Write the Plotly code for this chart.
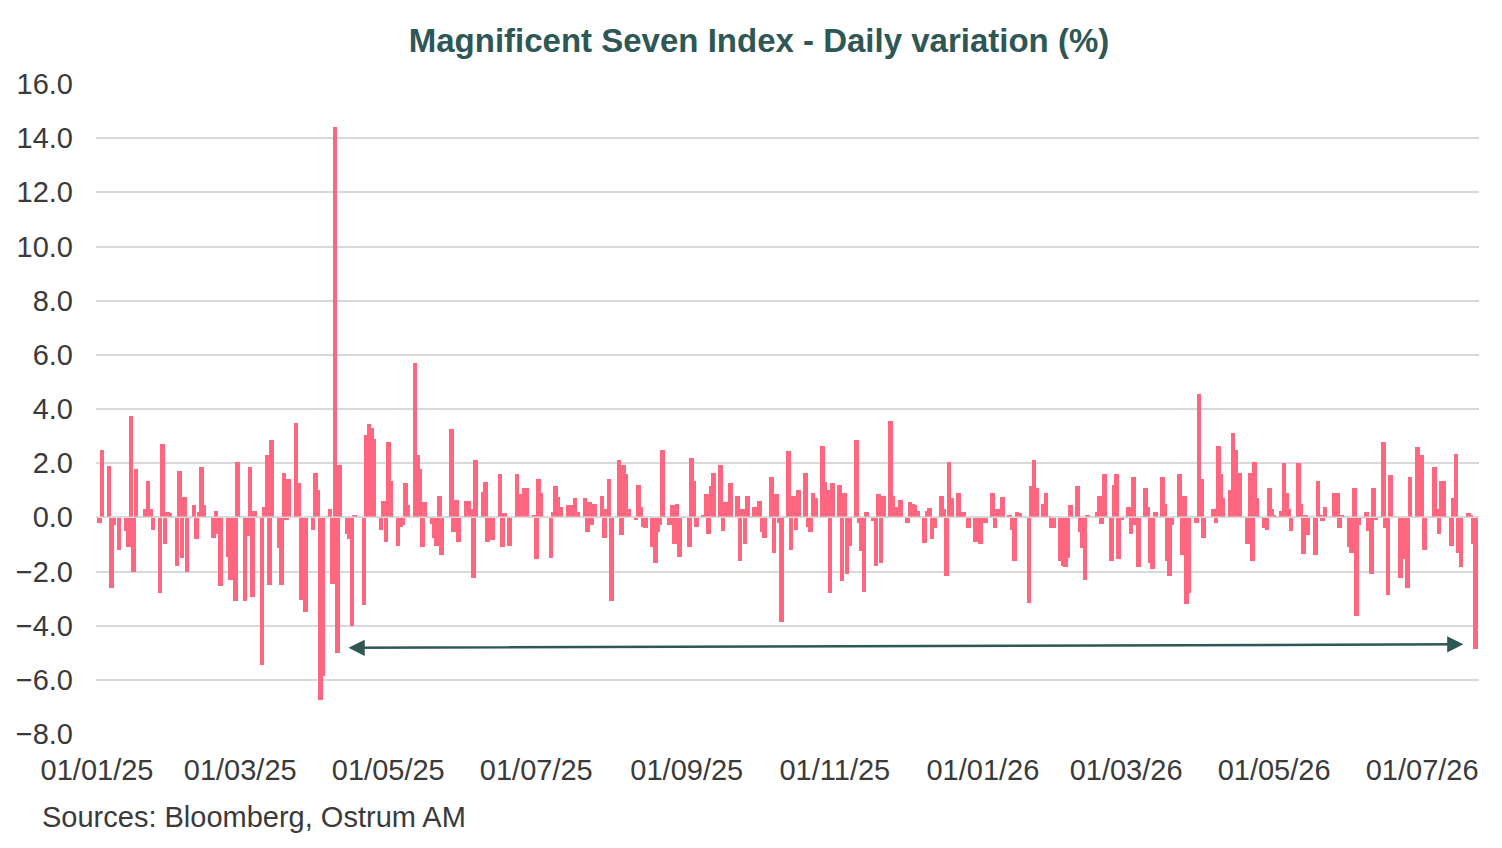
import plotly.graph_objects as go


def month(ym, days):
    return [f"{ym}-{d:02d}" for d in days]


trade_dates = (
    month("2025-01", [2, 3, 6, 7, 8, 10, 13, 14, 15, 16, 17, 21, 22, 23, 24, 27, 28, 29, 30, 31])
    + month("2025-02", [3, 4, 5, 6, 7, 10, 11, 12, 13, 14, 18, 19, 20, 21, 24, 25, 26, 27, 28])
    + month("2025-03", [3, 4, 5, 6, 7, 10, 11, 12, 13, 14, 17, 18, 19, 20, 21, 24, 25, 26, 27, 28, 31])
    + month("2025-04", [1, 2, 3, 4, 7, 8, 9, 10, 11, 14, 15, 16, 17, 21, 22, 23, 24, 25, 28, 29, 30])
    + month("2025-05", [1, 2, 5, 6, 7, 8, 9, 12, 13, 14, 15, 16, 19, 20, 21, 22, 23, 27, 28, 29, 30])
    + month("2025-06", [2, 3, 4, 5, 6, 9, 10, 11, 12, 13, 16, 17, 18, 20, 23, 24, 25, 26, 27, 30])
    + month("2025-07", [1, 2, 3, 7, 8, 9, 10, 11, 14, 15, 16, 17, 18, 21, 22, 23, 24, 25, 28, 29, 30, 31])
    + month("2025-08", [1, 4, 5, 6, 7, 8, 11, 12, 13, 14, 15, 18, 19, 20, 21, 22, 25, 26, 27, 28, 29])
    + month("2025-09", [2, 3, 4, 5, 8, 9, 10, 11, 12, 15, 16, 17, 18, 19, 22, 23, 24, 25, 26, 29, 30])
    + month("2025-10", [1, 2, 3, 6, 7, 8, 9, 10, 13, 14, 15, 16, 17, 20, 21, 22, 23, 24, 27, 28, 29, 30, 31])
    + month("2025-11", [3, 4, 5, 6, 7, 10, 11, 12, 13, 14, 17, 18, 19, 20, 21, 24, 25, 26, 28])
    + month("2025-12", [1, 2, 3, 4, 5, 8, 9, 10, 11, 12, 15, 16, 17, 18, 19, 22, 23, 24, 26, 29, 30, 31])
    + month("2026-01", [2, 5, 6, 7, 8, 9, 12, 13, 14, 15, 16, 20, 21, 22, 23, 26, 27, 28, 29, 30])
    + month("2026-02", [2, 3, 4, 5, 6, 9, 10, 11, 12, 13, 17, 18, 19, 20, 23, 24, 25, 26, 27])
    + month("2026-03", [2, 3, 4, 5, 6, 9, 10, 11, 12, 13, 16, 17, 18, 19, 20, 23, 24, 25, 26, 27, 30, 31])
    + month("2026-04", [1, 2, 6, 7, 8, 9, 10, 13, 14, 15, 16, 17, 20, 21, 22, 23, 24, 27, 28, 29, 30])
    + month("2026-05", [1, 4, 5, 6, 7, 8, 11, 12, 13, 14, 15, 18, 19, 20, 21, 22, 26, 27, 28, 29])
    + month("2026-06", [1, 2, 3, 4, 5, 8, 9, 10, 11, 12, 15, 16, 17, 18, 22, 23, 24, 25, 26, 29, 30])
    + month("2026-07", [1, 2, 6, 7, 8, 9, 10, 13, 14, 15, 16, 17, 20, 21, 22, 23])
)

daily_pct = [
    # 2025-01
    -0.2, 2.5, 1.9, -2.6, -0.3, -1.2, -0.5, -1.1, 3.75, -2.0, 1.8, 0.3, 1.35, 0.3, -0.45, -2.8, 2.7, -1.0, 0.2, 0.15,
    # 2025-02
    -1.8, 1.7, -1.5, 0.75, -2.0, 0.45, -0.8, 0.2, 1.85, 0.45, -0.75, 0.25, -0.6, -2.55, -1.45, -2.3, -0.4, -3.1, 2.05,
    # 2025-03
    -3.1, -0.7, 1.85, -2.95, 0.25, -5.45, 0.4, 2.3, -2.5, 2.85, -1.15, -2.5, 1.65, -0.1, 1.4, 3.5, 1.25, -3.05, -0.5, -3.5, -0.45,
    # 2025-04
    1.65, 1.0, -6.75, -5.85, 0.3, -2.45, 14.4, -5.0, 1.95, -0.6, -0.8, -4.0, 0.1, -3.25, 3.05, 3.45, 3.3, 2.9, -0.45, 0.6, -0.9,
    # 2025-05
    2.8, 1.35, -1.05, -0.35, -0.3, 1.25, 0.45, 5.7, 2.3, 1.8, -1.1, 0.55, -0.25, -0.75, -1.05, 0.8, -1.4, 3.25, -0.55, 0.65, -0.9,
    # 2025-06
    0.6, 0.6, 0.3, -2.25, 2.1, 0.95, 1.3, -0.9, -0.2, -0.85, 1.6, -1.1, 0.15, -1.05, 1.6, 0.85, 0.2, 1.1, 1.1, 0.1,
    # 2025-07
    -1.55, 1.4, 0.9, -1.5, 0.2, 1.15, 0.75, 0.4, 0.45, 0.2, 0.45, 0.7, 0.2, 0.7, -0.55, 0.55, -0.3, 0.5, 0.8, -0.75, 0.3, 1.4,
    # 2025-08
    -3.1, 2.1, -0.65, 1.95, 1.6, 0.3, -0.1, 1.2, 0.4, -0.35, -0.4, -1.1, -1.7, -0.55, -0.3, 2.5, -0.3, 0.45, -1.0, 0.5, -1.45,
    # 2025-09
    -1.1, 2.2, 1.35, -0.35, 0.1, 0.85, -0.6, 1.15, 1.65, 1.95, -0.5, 0.55, 0.2, 1.25, 0.8, -1.6, 0.3, -1.0, 0.8, 0.4, 0.2,
    # 2025-10
    0.6, -0.55, -0.75, 1.5, -1.3, 0.85, -0.2, -3.85, 2.45, -1.2, 0.8, -0.45, 1.0, 1.65, -0.35, -0.55, 0.9, 0.7, 2.65, 1.3, 1.0, -2.8, 1.25,
    # 2025-11
    1.2, -2.35, 0.9, -2.1, -1.05, 2.85, -0.2, -1.25, -2.75, 0.2, -0.15, -1.8, 0.85, -1.7, 0.8, 3.55, 0.8, 0.4, 0.65,
    # 2025-12
    -0.2, 0.55, 0.5, 0.45, 0.25, -0.95, 0.25, 0.35, -0.8, -0.4, 0.8, 0.3, -2.15, 2.05, 0.7, 0.9, 0.15, 0.2, -0.4, -0.9, -0.6, -1.0,
    # 2026-01
    -0.2, 0.9, -0.4, 0.3, 0.2, 0.75, 0.1, -0.45, -1.6, 0.2, 0.15, -3.15, 1.15, 2.1, 1.1, 0.5, 0.9, 0.05, -0.4, -0.4,
    # 2026-02
    -1.6, -1.8, -1.85, -1.5, 0.45, 1.15, -0.55, -1.15, -2.3, 0.1, 0.2, 0.8, -0.25, 1.6, -1.6, 1.2, 1.6, -1.55, -0.1,
    # 2026-03
    0.4, -0.6, 1.5, -0.3, -1.85, 1.1, 0.4, -1.7, -1.9, 0.2, 1.5, 0.5, -1.6, -2.15, -0.3, 1.6, -1.4, 0.8, -3.2, -2.8, -0.2, 4.55,
    # 2026-04
    1.4, -0.75, 0.3, -0.2, 2.65, 1.6, 0.7, 1.0, 3.1, 2.5, 1.65, 1.65, -1.0, 1.65, -1.6, 2.05, 0.7, -0.4, -0.45, 1.1, 0.3,
    # 2026-05
    0.1, 0.25, 2.0, 0.9, 0.3, -0.5, 2.0, 0.5, -1.35, 0.1, -0.65, -1.4, 1.35, 0.1, -0.15, 0.4, 0.9, 0.9, -0.4, 0.1,
    # 2026-06
    -1.1, -1.3, 1.1, -3.65, -0.3, 0.2, -0.5, -2.1, 1.1, -0.1, 2.8, -0.4, -2.85, 1.55, -2.25, -1.55, -1.0, -2.6, 1.5, 2.6, 0.4,
    # 2026-07
    2.3, -1.2, 1.85, 0.3, -0.6, 1.35, 1.35, -1.05, 0.7, 2.35, -1.3, -1.85, 0.15, 0.1, -1.0, -4.85,
]

assert len(trade_dates) == len(daily_pct), (len(trade_dates), len(daily_pct))

tick_dates = ["2025-01-01", "2025-03-01", "2025-05-01", "2025-07-01", "2025-09-01",
              "2025-11-01", "2026-01-01", "2026-03-01", "2026-05-01", "2026-07-01"]
tick_labels = ["01/01/25", "01/03/25", "01/05/25", "01/07/25", "01/09/25",
               "01/11/25", "01/01/26", "01/03/26", "01/05/26", "01/07/26"]

# arrow spanning the period since the April 2025 trough
arrow_start = ("2025-04-14", -4.82)
arrow_end = ("2026-07-18", -4.69)

TEAL = "#2E5756"
BAR = "#FF6680"
TXT = "#3A3A3A"
GRID = "#D9D9D9"
FONT = "Liberation Sans, Arial, sans-serif"
DAY_MS = 86400000

fig = go.Figure()
fig.add_trace(go.Bar(
    x=trade_dates, y=daily_pct,
    width=[1.9 * DAY_MS] * len(daily_pct),
    marker=dict(color=BAR, line=dict(width=0)),
    hoverinfo="x+y",
))

fig.add_shape(type="line", xref="paper", yref="y", x0=0, x1=1, y0=0, y1=0,
              line=dict(color=GRID, width=1.5), layer="above")

fig.add_annotation(
    x=arrow_end[0], y=arrow_end[1], ax=arrow_start[0], ay=arrow_start[1],
    xref="x", yref="y", axref="x", ayref="y",
    showarrow=True, arrowhead=2, startarrowhead=2, arrowside="end+start",
    arrowsize=1.3, arrowwidth=2.5, arrowcolor=TEAL, text="",
)

fig.add_annotation(
    text="Sources: Bloomberg, Ostrum AM", xref="paper", yref="paper",
    x=(40 - 96) / 1383, y=(734 - 817) / 650, xanchor="left", yanchor="middle",
    showarrow=False, font=dict(family=FONT, size=29, color=TXT),
)

fig.update_layout(
    width=1502, height=848,
    margin=dict(l=96, r=23, t=84, b=114),
    paper_bgcolor="white", plot_bgcolor="white",
    showlegend=False, bargap=0,
    title=dict(text="<b>Magnificent Seven Index - Daily variation (%)</b>",
               x=759 / 1502, xanchor="center", y=1 - 40 / 848, yanchor="middle",
               font=dict(family=FONT, size=33, color=TEAL)),
    xaxis=dict(
        type="date", range=["2024-12-31 14:00", "2026-07-24 10:00"],
        tickmode="array", tickvals=tick_dates, ticktext=tick_labels,
        showgrid=False, zeroline=False, showline=False, ticks="",
        tickfont=dict(family=FONT, size=29, color=TXT), ticklabelstandoff=16,
    ),
    yaxis=dict(
        range=[-8, 16], dtick=2, tick0=0, tickformat=".1f",
        showgrid=True, gridcolor=GRID, gridwidth=1.5, zeroline=False,
        showline=False, ticks="",
        tickfont=dict(family=FONT, size=29, color=TXT), ticklabelstandoff=22,
    ),
)

fig.write_html("out.html")
